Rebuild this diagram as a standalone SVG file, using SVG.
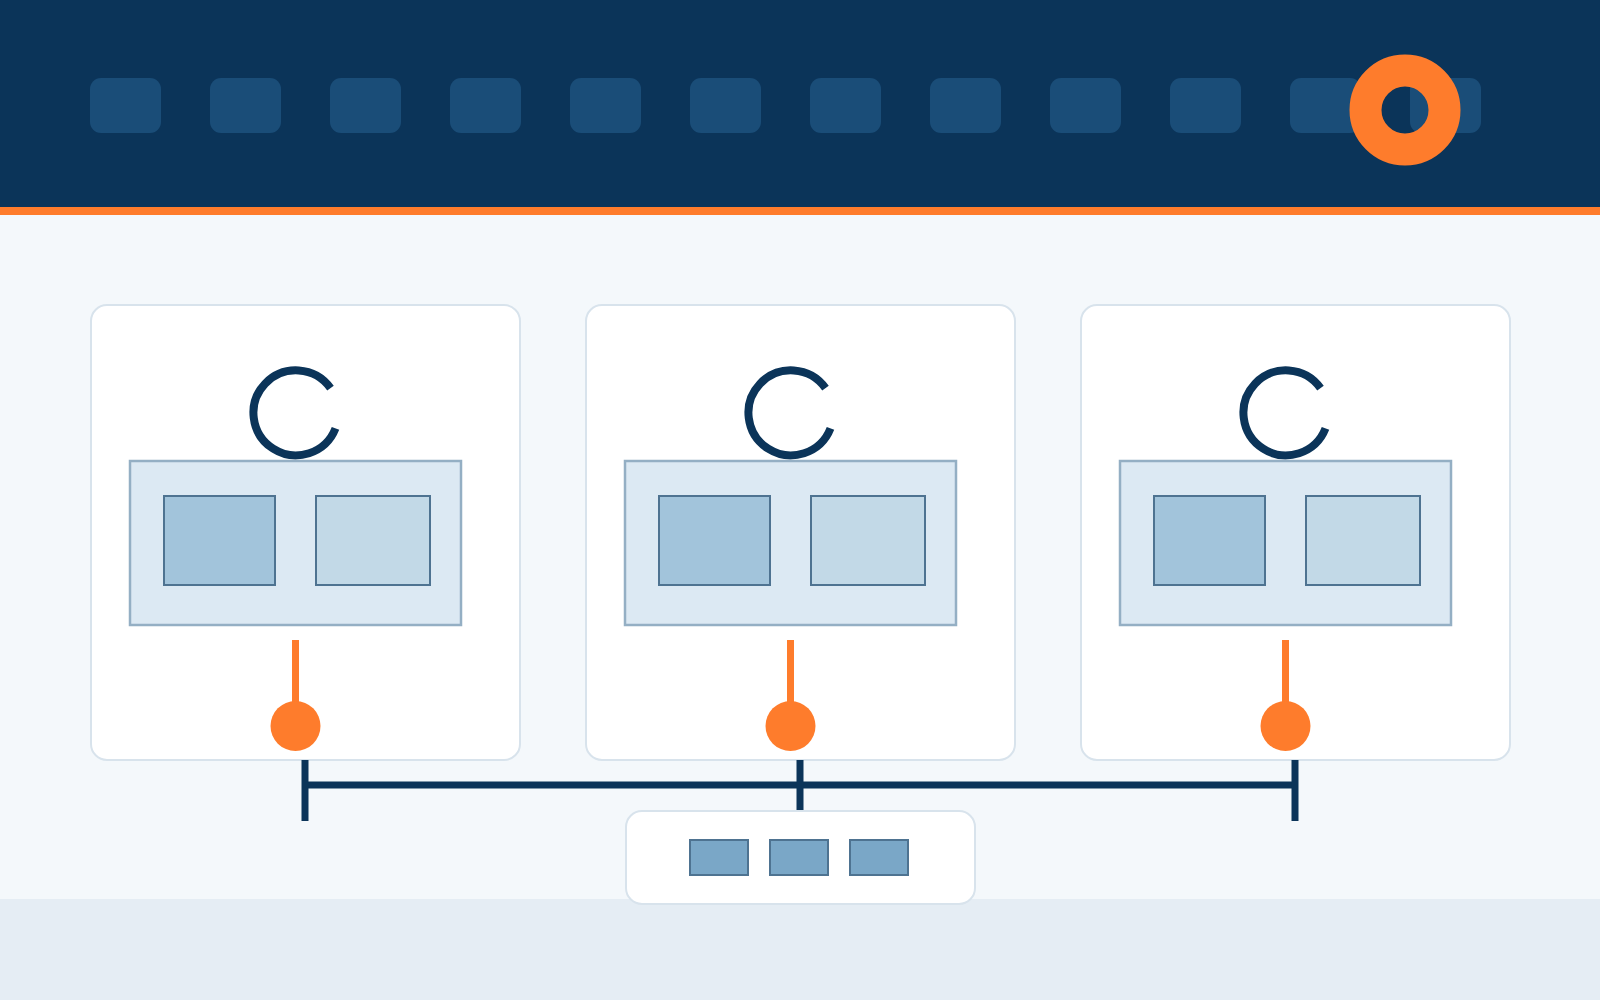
<svg xmlns="http://www.w3.org/2000/svg" width="1600" height="1000" viewBox="0 0 1600 1000">
<defs>
<style>
.tab{fill:#1a4d78}
.card{fill:#ffffff;stroke:#d8e3ec;stroke-width:2}
.arc{fill:none;stroke:#0b3459;stroke-width:8}
.panel{fill:#dce9f3;stroke:#94afc4;stroke-width:2.5}
.boxa{fill:#a2c4db;stroke:#4e7391;stroke-width:2}
.boxb{fill:#c2d9e7;stroke:#4e7391;stroke-width:2}
.stem{stroke:#fe7c2c;stroke-width:7}
.dot{fill:#fe7c2c}
.bus{stroke:#0b3459;stroke-width:7;fill:none}
.mini{fill:#7aa7c7;stroke:#4e7391;stroke-width:2}
</style>
<g id="unit">
<rect class="card" x="91" y="305" width="429" height="455" rx="16"/>
<path class="arc" d="M 335.5 428.4 A 42.5 42.5 0 1 1 330.5 388.1"/>
<rect class="panel" x="130" y="461" width="331" height="164"/>
<rect class="boxa" x="164" y="496" width="111" height="89"/>
<rect class="boxb" x="316" y="496" width="114" height="89"/>
<line class="stem" x1="295.5" y1="640" x2="295.5" y2="712"/>
<circle class="dot" cx="295.5" cy="726" r="25"/>
</g>
</defs>
<rect x="0" y="0" width="1600" height="1000" fill="#f4f8fb"/>
<rect x="0" y="899" width="1600" height="101" fill="#e5edf4"/>
<g id="header">
<rect x="0" y="0" width="1600" height="207" fill="#0b3459"/>
<rect x="0" y="207" width="1600" height="8" fill="#fe7c2c"/>
<rect class="tab" x="90" y="78" width="71" height="55" rx="11"/>
<rect class="tab" x="210" y="78" width="71" height="55" rx="11"/>
<rect class="tab" x="330" y="78" width="71" height="55" rx="11"/>
<rect class="tab" x="450" y="78" width="71" height="55" rx="11"/>
<rect class="tab" x="570" y="78" width="71" height="55" rx="11"/>
<rect class="tab" x="690" y="78" width="71" height="55" rx="11"/>
<rect class="tab" x="810" y="78" width="71" height="55" rx="11"/>
<rect class="tab" x="930" y="78" width="71" height="55" rx="11"/>
<rect class="tab" x="1050" y="78" width="71" height="55" rx="11"/>
<rect class="tab" x="1170" y="78" width="71" height="55" rx="11"/>
<rect class="tab" x="1290" y="78" width="71" height="55" rx="11"/>
<rect class="tab" x="1410" y="78" width="71" height="55" rx="11"/>
<circle cx="1405" cy="110" r="39.5" fill="none" stroke="#fe7c2c" stroke-width="32"/>
</g>
<g id="node1"><use href="#unit"/></g>
<g id="node2"><use href="#unit" x="495"/></g>
<g id="node3"><use href="#unit" x="990"/></g>
<g id="connectors">
<line class="bus" x1="305" y1="785" x2="1295" y2="785"/>
<line class="bus" x1="305" y1="760" x2="305" y2="821"/>
<line class="bus" x1="800" y1="760" x2="800" y2="811"/>
<line class="bus" x1="1295" y1="760" x2="1295" y2="821"/>
</g>
<g id="hub">
<rect class="card" x="626" y="811" width="349" height="93" rx="16"/>
<rect class="mini" x="690" y="840" width="58" height="35"/>
<rect class="mini" x="770" y="840" width="58" height="35"/>
<rect class="mini" x="850" y="840" width="58" height="35"/>
</g>
</svg>
